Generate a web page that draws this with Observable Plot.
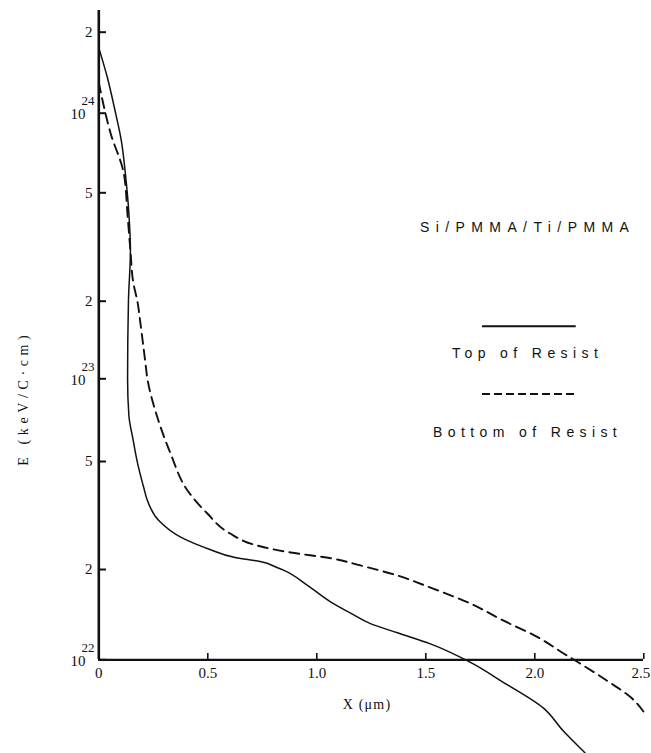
<!DOCTYPE html>
<html>
<head>
<meta charset="utf-8">
<script src="https://cdn.jsdelivr.net/npm/d3@7"></script>
<script src="https://cdn.jsdelivr.net/npm/@observablehq/plot@0.6"></script>
<style>
  html, body { margin: 0; padding: 0; background: #fff; }
  #chart svg { display: block; }
  g[aria-description="legend-text"] text { letter-spacing: 5.4px; }
  g[aria-description="system-text"] text { letter-spacing: 6.4px; }
  g[aria-description="y-label"] text { letter-spacing: 4.6px; }
  g[aria-description="x-label"] text { letter-spacing: 1.2px; }
</style>
</head>
<body>
<div id="chart"></div>
<script>
// ---- data ----
const topX = [0, 0.039, 0.077, 0.103, 0.122, 0.138, 0.145, 0.136, 0.132, 0.138, 0.158, 0.178, 0.206, 0.223, 0.275, 0.38, 0.51, 0.63, 0.74, 0.82, 0.847, 0.957, 1.063, 1.155, 1.246, 1.37, 1.521, 1.705, 1.857, 2.04, 2.13, 2.23];
const topE = [1.75e24, 1.36e24, 1.0e24, 7.9e23, 5.9e23, 4.2e23, 3.07e23, 2.0e23, 1.0e23, 7.35e22, 5.96e22, 4.92e22, 4.01e22, 3.59e22, 3.03e22, 2.62e22, 2.37e22, 2.21e22, 2.14e22, 2.03e22, 1.99e22, 1.77e22, 1.56e22, 1.43e22, 1.32e22, 1.23e22, 1.13e22, 9.8e21, 8.4e21, 6.9e21, 5.8e21, 4.9e21];

const bottomX = [0, 0.054, 0.115, 0.132, 0.145, 0.159, 0.177, 0.191, 0.214, 0.223, 0.269, 0.329, 0.407, 0.499, 0.60, 0.728, 0.88, 1.064, 1.20, 1.37, 1.522, 1.705, 1.857, 2.013, 2.132, 2.21, 2.333, 2.44, 2.5];
const bottomE = [1.30e24, 8.4e23, 5.9e23, 4.13e23, 3.07e23, 2.32e23, 2.0e23, 1.64e23, 1.15e23, 1.0e23, 7.23e22, 5.35e22, 3.91e22, 3.21e22, 2.72e22, 2.45e22, 2.31e22, 2.20e22, 2.07e22, 1.91e22, 1.74e22, 1.54e22, 1.35e22, 1.19e22, 1.05e22, 9.7e21, 8.5e21, 7.5e21, 6.7e21];

const xTicks = [0, 0.5, 1.0, 1.5, 2.0, 2.5];
const xTickLabels = ["0", "0.5", "1.0", "1.5", "2.0", "2.5"];
const yTicks = [2e24, 1e24, 5e23, 2e23, 1e23, 5e22, 2e22, 1e22];
const yTickLabels = ["2", "10", "5", "2", "10", "5", "2", "10"];
const yTickExponents = ["", "24", "", "", "23", "", "", "22"];

const seriesNames = ["Top of Resist", "Bottom of Resist"];
const systemLabel = "Si/PMMA/Ti/PMMA";
const xLabel = "X (μm)";
const yLabel = "E (keV/C·cm)";

// annotation anchors, in data units
const legendX = [1.76, 2.19];
const legendLineE = [1.6e23, 8.8e22];
const legendTextE = [1.25e23, 6.4e22];
const annotationX = 1.967;
const systemE = 3.73e23;
const yLabelE = 8.5e22;

// ---- build ----
const topData = topX.map((x, i) => ({x, e: topE[i]}));
const bottomData = bottomX.map((x, i) => ({x, e: bottomE[i]}));
const yt = yTicks.map((v, i) => ({v, label: yTickLabels[i], exp: yTickExponents[i]}));
const xt = xTicks.map((v, i) => ({v, label: xTickLabels[i]}));
const legendItems = seriesNames.map((name, i) => ({name, lineE: legendLineE[i], textE: legendTextE[i]}));

// hand-drawn axis: piecewise log mapping of the printed ticks
const yDomain = [1e22, 2e22, 5e22, 1e23, 2e23, 5e23, 1e24, 2e24];
const yRange = [659.3, 569, 461, 378.3, 300.7, 192.3, 112.7, 31.7];

const ink = "#111";
const sans = "'Liberation Sans', Arial, sans-serif";

const chart = Plot.plot({
  width: 651,
  height: 753,
  marginLeft: 98,
  marginRight: 8,
  marginTop: 10,
  marginBottom: 94,
  x: {domain: [0, 2.5], range: [98.3, 643.3]},
  y: {type: "log", domain: yDomain, range: yRange},
  style: {fontFamily: "'Liberation Serif', serif", fontSize: "15px", color: ink, background: "#fff", overflow: "visible"},
  marks: [
    Plot.line(topData, {x: "x", y: "e", curve: "monotone-y", stroke: ink, strokeWidth: 1.5}),
    Plot.line(bottomData, {x: "x", y: "e", curve: "monotone-y", stroke: ink, strokeWidth: 1.9, strokeDasharray: "10,6"}),
    Plot.ruleX([0], {stroke: ink, strokeWidth: 2.6}),
    Plot.ruleY([1e22], {stroke: ink, strokeWidth: 2.3}),
    Plot.axisY(yTicks, {anchor: "left", tickSize: -8, strokeWidth: 2, tickFormat: () => "", label: null}),
    Plot.axisX(xTicks, {anchor: "bottom", tickSize: -6, strokeWidth: 1.6, tickFormat: () => "", label: null}),
    Plot.text(xt.slice(0, -1), {x: "v", frameAnchor: "bottom", text: "label", dy: 18, fontSize: 15}),
    Plot.text(xt.slice(-1), {x: "v", frameAnchor: "bottom", text: "label", dx: -3, dy: 18, fontSize: 15}),
    Plot.text(yt.filter(d => !d.exp), {frameAnchor: "left", y: "v", text: "label", textAnchor: "end", dx: -6, fontSize: 15}),
    Plot.text(yt.filter(d => d.exp), {frameAnchor: "left", y: "v", text: "label", textAnchor: "end", dx: -13, dy: 1, fontSize: 15}),
    Plot.text(yt.filter(d => d.exp), {frameAnchor: "left", y: "v", text: "exp", textAnchor: "start", dx: -17, dy: -12, fontSize: 13}),
    Plot.text([xLabel], {frameAnchor: "bottom", text: d => d, dx: -4, dy: 49, fontSize: 14, ariaDescription: "x-label"}),
    Plot.text([yLabel], {frameAnchor: "left", y: () => yLabelE, text: d => d, rotate: -90, textAnchor: "middle", dx: -75, fontSize: 14, ariaDescription: "y-label"}),
    Plot.text([systemLabel], {x: () => annotationX, y: () => systemE, text: d => d, fontFamily: sans, fontSize: 14, ariaDescription: "system-text"}),
    Plot.ruleY([legendItems[0]], {y: "lineE", x1: () => legendX[0], x2: () => legendX[1], stroke: ink, strokeWidth: 2}),
    Plot.ruleY([legendItems[1]], {y: "lineE", x1: () => legendX[0], x2: () => legendX[1], stroke: ink, strokeWidth: 2, strokeDasharray: "8,4"}),
    Plot.text(legendItems, {x: () => annotationX, y: "textE", text: "name", fontFamily: sans, fontSize: 14, ariaDescription: "legend-text"})
  ]
});
document.getElementById("chart").appendChild(chart);
</script>
</body>
</html>
